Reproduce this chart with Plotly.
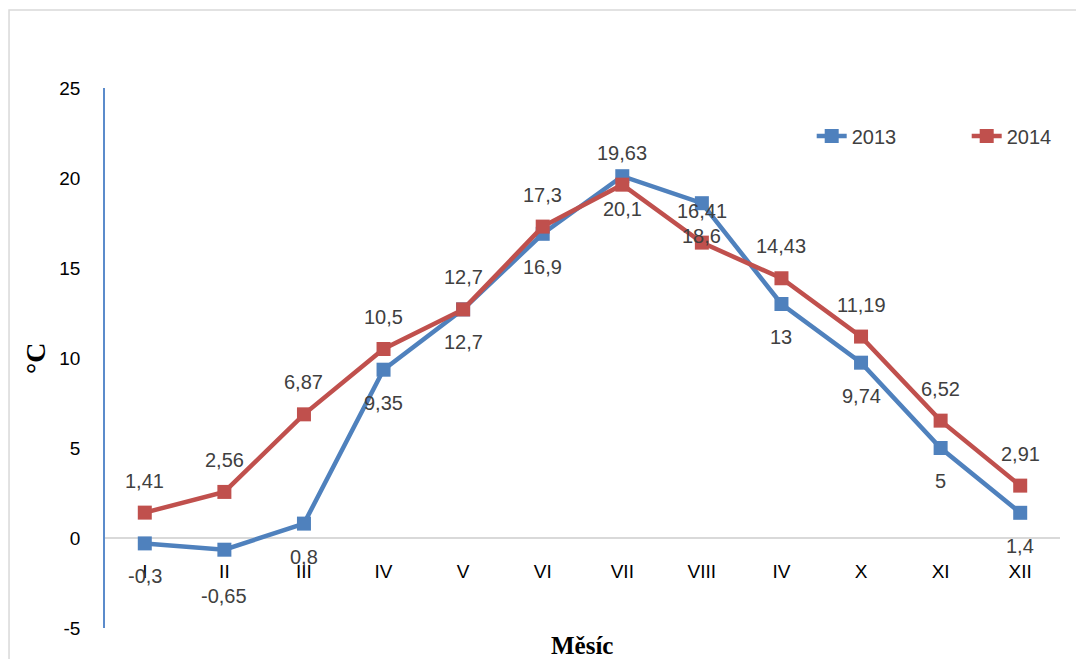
import plotly.graph_objects as go

months = ["I", "II", "III", "IV", "V", "VI", "VII", "VIII", "IV", "X", "XI", "XII"]
t2013 = [-0.3, -0.65, 0.8, 9.35, 12.7, 16.9, 20.1, 18.6, 13, 9.74, 5, 1.4]
t2014 = [1.41, 2.56, 6.87, 10.5, 12.7, 17.3, 19.63, 16.41, 14.43, 11.19, 6.52, 2.91]
y_ticks = [-5, 0, 5, 10, 15, 20, 25]

BLUE = "#4F81BD"
RED = "#C0504D"
LABEL_FONT = "Liberation Sans"

xpos = list(range(len(months)))

def fmt(v):
    return ("%g" % v).replace(".", ",")

fig = go.Figure()
fig.add_trace(go.Scatter(x=xpos, y=t2013, name="2013", mode="lines+markers",
                         line=dict(color=BLUE, width=4.5),
                         marker=dict(symbol="square", size=14, color=BLUE)))
fig.add_trace(go.Scatter(x=xpos, y=t2014, name="2014", mode="lines+markers",
                         line=dict(color=RED, width=4.5),
                         marker=dict(symbol="square", size=14, color=RED)))

annotations = []
for i, (x, v) in enumerate(zip(xpos, t2013)):
    shift = -46 if i == 1 else -33
    annotations.append(dict(x=x, y=v, xref="x", yref="y", text=fmt(v), showarrow=False,
                            yshift=shift, font=dict(family=LABEL_FONT, size=20, color="#404040")))
for x, v in zip(xpos, t2014):
    annotations.append(dict(x=x, y=v, xref="x", yref="y", text=fmt(v), showarrow=False,
                            yshift=32, font=dict(family=LABEL_FONT, size=20, color="#404040")))

annotations.append(dict(x=-0.0733, y=0.5, xref="paper", yref="paper", text="<b>°C</b>",
                        showarrow=False, textangle=-90,
                        font=dict(family="Liberation Serif", size=28, color="black"),
                        xanchor="center", yanchor="middle"))
annotations.append(dict(x=0.499, y=-0.0315, xref="paper", yref="paper", text="<b>Měsíc</b>",
                        showarrow=False,
                        font=dict(family="Liberation Serif", size=25, color="black"),
                        xanchor="center", yanchor="middle"))

fig.update_layout(
    width=1076, height=651,
    margin=dict(l=97, r=24, t=80, b=31, autoexpand=False),
    paper_bgcolor="white", plot_bgcolor="white",
    showlegend=True,
    legend=dict(orientation="h", x=0.740, y=0.911, xanchor="left", yanchor="middle",
                font=dict(family=LABEL_FONT, size=20, color="#404040"),
                entrywidth=110, entrywidthmode="pixels", bgcolor="rgba(0,0,0,0)"),
    annotations=annotations,
    shapes=[dict(type="rect", xref="paper", yref="paper",
                 x0=-0.1005, x1=1.1, y0=-0.2, y1=1.1444,
                 line=dict(color="#D9D9D9", width=1.5), fillcolor="rgba(0,0,0,0)", layer="below")],
)

fig.update_xaxes(range=[-0.5, 11.5], tickmode="array", tickvals=xpos, ticktext=months,
                 anchor="free", position=1/6, showline=False, showgrid=False, zeroline=False,
                 ticks="", ticklabelstandoff=20,
                 tickfont=dict(family=LABEL_FONT, size=19, color="black"))
fig.update_yaxes(range=[-5, 25], tickmode="array", tickvals=y_ticks,
                 ticktext=[str(v) for v in y_ticks],
                 showgrid=False, zeroline=True, zerolinecolor="#D9D9D9", zerolinewidth=1.5,
                 showline=True, linecolor="#5B8BCB", linewidth=1.5,
                 ticks="", ticklabelstandoff=19,
                 tickfont=dict(family=LABEL_FONT, size=19, color="black"))

fig.write_html("out.html")
